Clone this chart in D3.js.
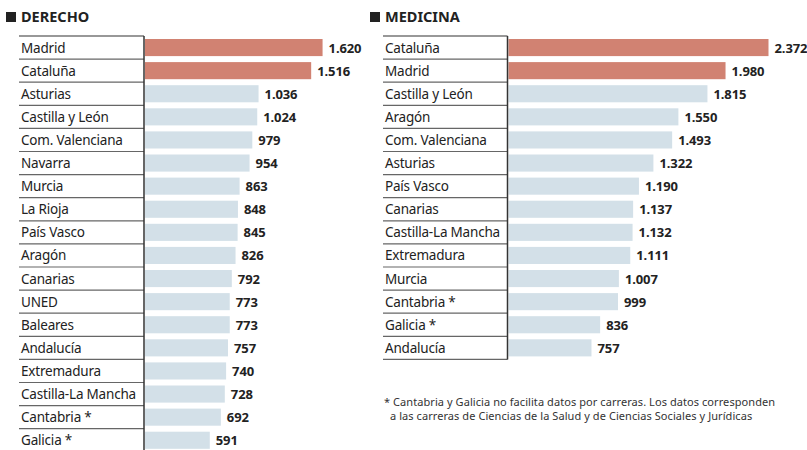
<!DOCTYPE html>
<html><head><meta charset="utf-8">
<script src="https://cdn.jsdelivr.net/npm/d3@7"></script>
<style>
body{margin:0;background:#fff;}
svg{display:block;font-family:"Noto Sans",sans-serif;}
</style></head>
<body><svg id="c" width="807" height="450"></svg>
<script>
const derechoCats = ["Madrid","Cataluña","Asturias","Castilla y León","Com. Valenciana","Navarra","Murcia","La Rioja","País Vasco","Aragón","Canarias","UNED","Baleares","Andalucía","Extremadura","Castilla-La Mancha","Cantabria *","Galicia *"];
const derechoVals = [1620,1516,1036,1024,979,954,863,848,845,826,792,773,773,757,740,728,692,591];
const medicinaCats = ["Cataluña","Madrid","Castilla y León","Aragón","Com. Valenciana","Asturias","País Vasco","Canarias","Castilla-La Mancha","Extremadura","Murcia","Cantabria *","Galicia *","Andalucía"];
const medicinaVals = [2372,1980,1815,1550,1493,1322,1190,1137,1132,1111,1007,999,836,757];
const highlighted = [2,2]; // first two bars highlighted in each panel
const titles = ["DERECHO","MEDICINA"];
const footnote = ["* Cantabria y Galicia no facilita datos por carreras. Los datos corresponden","a las carreras de Ciencias de la Salud y de Ciencias Sociales y Jurídicas"];

const svg = d3.select("#c");
const fmt = v => d3.format(",")(v).replace(/,/g,".");
const pitch = 23.1, topY = 36;

function panel(ox, axisX, cats, vals, title, nHi){
  const g = svg.append("g");
  g.append("rect").attr("x",ox).attr("y",12).attr("width",10).attr("height",10).attr("fill","#222");
  g.append("text").attr("x",ox+15).attr("y",22).attr("font-size",14.5).attr("font-weight",700)
    .attr("fill","#222").attr("letter-spacing",0).text(title);
  const y = d3.scaleBand().domain(cats).range([topY, topY+cats.length*pitch]).paddingInner(6/23.1).paddingOuter(3/23.1);
  const step = y.step();
  const x = d3.scaleLinear().domain([0,2372]).range([axisX+1, axisX+1+260]);
  const r0 = topY;
  cats.forEach((c,i)=>{
    g.append("line").attr("x1",ox+13).attr("x2",axisX).attr("y1",r0+(i+1)*step).attr("y2",r0+(i+1)*step)
      .attr("stroke","#666").attr("stroke-width",1.2);
  });
  g.append("line").attr("x1",ox+13).attr("x2",axisX).attr("y1",r0).attr("y2",r0).attr("stroke","#333").attr("stroke-width",1.2);
  g.selectAll("rect.bar").data(cats).join("rect").attr("class","bar")
    .attr("x",x(0)).attr("y",d=>y(d)).attr("height",y.bandwidth())
    .attr("width",(d,i)=>x(vals[i])-x(0))
    .attr("fill",(d,i)=> i<nHi ? "#d18272" : "#d3e0e8");
  g.selectAll("text.lab").data(cats).join("text").attr("class","lab")
    .attr("x",ox+15).attr("y",d=>y(d)+y.bandwidth()/2+5).attr("font-size",13.5).attr("letter-spacing",-0.2)
    .attr("fill","#222").text(d=>d);
  g.selectAll("text.val").data(cats).join("text").attr("class","val")
    .attr("x",(d,i)=>x(vals[i])+6).attr("y",d=>y(d)+y.bandwidth()/2+5).attr("font-size",13)
    .attr("font-weight",700).attr("letter-spacing",-0.1).attr("fill","#222").text((d,i)=>fmt(vals[i]));
  g.append("line").attr("x1",axisX).attr("x2",axisX).attr("y1",r0).attr("y2",r0+cats.length*step)
    .attr("stroke","#333").attr("stroke-width",1.5);
}
panel(6,144,derechoCats,derechoVals,titles[0],highlighted[0]);
panel(370,507.5,medicinaCats,medicinaVals,titles[1],highlighted[1]);

svg.append("text").attr("x",384).attr("y",406).attr("font-size",11).attr("letter-spacing",0.07).attr("fill","#333").text(footnote[0]);
svg.append("text").attr("x",390).attr("y",420).attr("font-size",11).attr("letter-spacing",0.07).attr("fill","#333").text(footnote[1]);
</script></body></html>
